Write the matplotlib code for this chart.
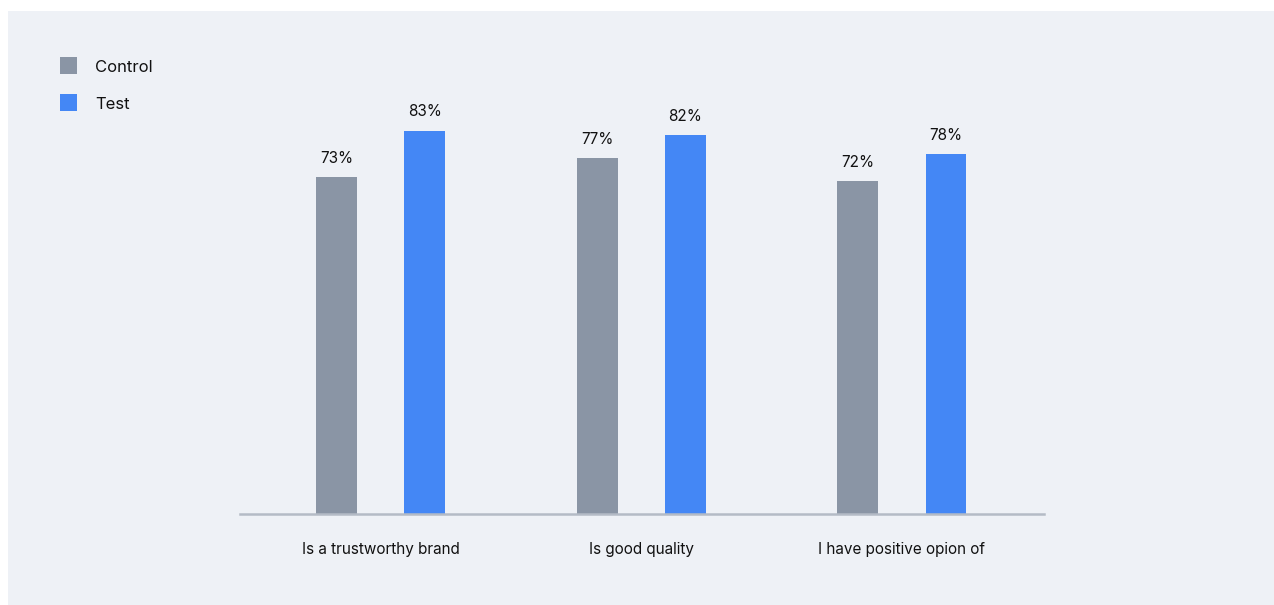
import numpy as np
import matplotlib.pyplot as plt
from matplotlib.patches import Rectangle

categories = ["Is a trustworthy brand", "Is good quality", "I have positive opion of"]
control = [73, 77, 72]
test = [83, 82, 78]
series_names = ["Control", "Test"]

GREY = "#8a95a5"
BLUE = "#4487f5"
BG = "#eef1f6"

plt.rcParams['font.family'] = ['Inter', 'DejaVu Sans']

fig = plt.figure(figsize=(12.74, 6.05), dpi=100, facecolor='white')
# light panel behind everything
fig.patches.append(Rectangle((8 / 1274, 0), 1 - 8 / 1274, 1 - 11 / 605,
                             transform=fig.transFigure, facecolor=BG, edgecolor='none', zorder=-10))

ax = fig.add_axes([240 / 1274, 1 - 514 / 605, 804 / 1274, 462 / 605])
ax.set_facecolor('none')

x = np.arange(len(categories))
w = 0.157
off = 0.169
b1 = ax.bar(x - off, control, w, color=GREY, label=series_names[0])
b2 = ax.bar(x + off, test, w, color=BLUE, label=series_names[1])

for bars in (b1, b2):
    for r in bars:
        ax.annotate(f"{r.get_height():.0f}%", (r.get_x() + r.get_width() / 2, r.get_height()),
                    xytext=(0, 8), textcoords='offset points', ha='center', va='bottom',
                    fontsize=11, color='#111111')

ax.set_xlim(-0.54, 2.545)
ax.set_ylim(0, 100)
ax.set_xticks(x)
ax.set_xticklabels(categories, fontsize=11, color='#111111')
ax.tick_params(axis='x', length=0, pad=20)
ax.set_yticks([])
for s in ['top', 'right', 'left']:
    ax.spines[s].set_visible(False)
ax.spines['bottom'].set_color('#b4bbc6')
ax.spines['bottom'].set_linewidth(1.8)

# legend drawn as squares + text in figure coords
for i, (name, col) in enumerate(zip(series_names, [GREY, BLUE])):
    y0 = 1 - (74 + 37 * i) / 605
    fig.patches.append(Rectangle((60 / 1274, y0), 17 / 1274, 17 / 605,
                                 transform=fig.transFigure, facecolor=col, edgecolor='none'))
    fig.text(95 / 1274, y0 + 6.5 / 605, name, fontsize=12, va='center', ha='left', color='#111111')

fig.savefig('out.png', dpi=100, facecolor='white')
